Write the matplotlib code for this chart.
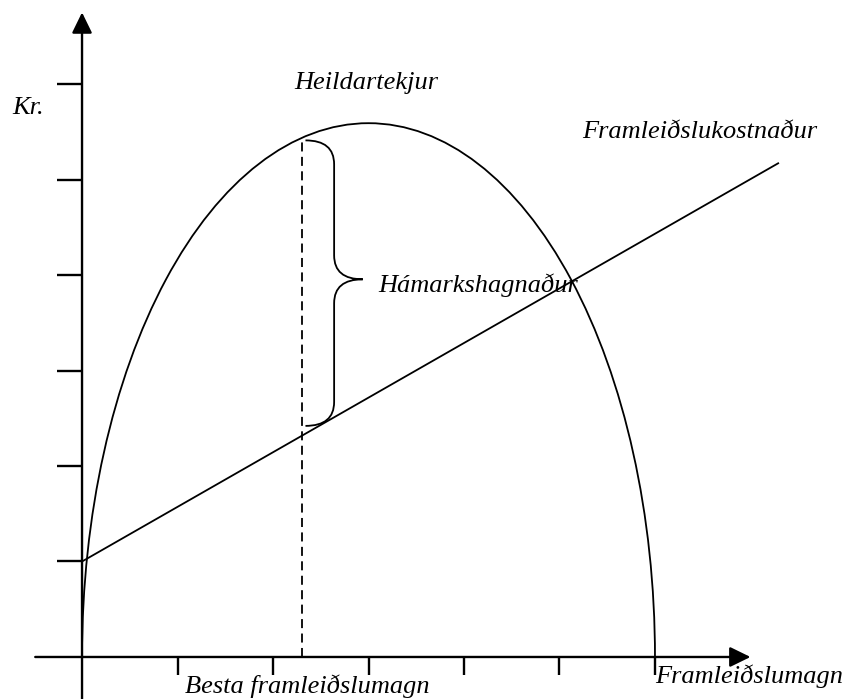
import numpy as np
import matplotlib.pyplot as plt
from matplotlib.patches import Arc, PathPatch
from matplotlib.path import Path

# values (1 unit = one tick step)
x_ticks = [1, 2, 3, 4, 5, 6]
y_ticks = [1, 2, 3, 4, 5, 6]

revenue_center = 3.0      # Heildartekjur: half ellipse
revenue_halfwidth = 3.0
revenue_peak = 5.59

cost_x = [0.0, 7.29]      # Framleiðslukostnaður
cost_y = [1.0, 5.17]

best_q = 2.30             # Besta framleiðslumagn
profit_top = 5.41
profit_bottom = 2.42

plt.rcParams['font.family'] = ['Liberation Serif', 'DejaVu Serif']

fig = plt.figure(figsize=(8.43, 6.99), dpi=100)
ax = fig.add_axes([0, 0, 1, 1])
ax.set_xlim(-0.859, 7.969)
ax.set_ylim(-0.440, 6.880)
ax.axis('off')

lw_axis = 1.7
lw = 1.3

# axes with arrows
arrow = dict(arrowstyle='-|>,head_length=0.45,head_width=0.22', lw=lw_axis,
             color='black', mutation_scale=28, shrinkA=0, shrinkB=0)
ax.annotate('', xy=(7.0, 0), xytext=(-0.49, 0), arrowprops=arrow)
ax.annotate('', xy=(0, 6.75), xytext=(0, -0.44), arrowprops=arrow)

for t in x_ticks:
    ax.plot([t, t], [0, -0.19], color='black', lw=lw_axis, solid_capstyle='butt')
for t in y_ticks:
    ax.plot([-0.26, 0], [t, t], color='black', lw=lw_axis, solid_capstyle='butt')

# revenue curve
ax.add_patch(Arc((revenue_center, 0), 2 * revenue_halfwidth, 2 * revenue_peak,
                 theta1=0, theta2=180, color='black', lw=lw))

# cost line
ax.plot(cost_x, cost_y, color='black', lw=lw)

# dashed line at best quantity
ax.plot([best_q, best_q], [0, profit_top], color='black', lw=lw,
        linestyle=(0, (5, 3)))

# curly brace for max profit
x0 = best_q + 0.04
x1 = x0 + 0.30
x2 = x1 + 0.30
ymid = (profit_top + profit_bottom) / 2 + 0.04
r = 0.25
verts = [
    (x0, profit_top), (x1, profit_top), (x1, profit_top - r),
    (x1, ymid + r),
    (x1, ymid), (x2, ymid),
    (x1, ymid), (x1, ymid - r),
    (x1, profit_bottom + r),
    (x1, profit_bottom), (x0, profit_bottom),
]
codes = [Path.MOVETO, Path.CURVE3, Path.CURVE3,
         Path.LINETO,
         Path.CURVE3, Path.CURVE3,
         Path.CURVE3, Path.CURVE3,
         Path.LINETO,
         Path.CURVE3, Path.CURVE3]
ax.add_patch(PathPatch(Path(verts, codes), facecolor='none',
                       edgecolor='black', lw=lw))

# labels
fs = 19
ax.text(-0.733, 5.686, 'Kr.', style='italic', fontsize=fs, ha='left', va='baseline')
ax.text(2.974, 5.948, 'Heildartekjur', style='italic', fontsize=fs,
        ha='center', va='baseline')
ax.text(5.236, 5.435, 'Framleiðslukostnaður', style='italic', fontsize=fs,
        ha='left', va='baseline')
ax.text(3.10, 3.822, 'Hámarkshagnaður', style='italic', fontsize=fs,
        ha='left', va='baseline')
ax.text(1.079, -0.377, 'Besta framleiðslumagn', style='italic', fontsize=fs,
        ha='left', va='baseline')
ax.text(6.0, -0.272, 'Framleiðslumagn', style='italic', fontsize=fs,
        ha='left', va='baseline')

fig.savefig('out.png', dpi=100)
